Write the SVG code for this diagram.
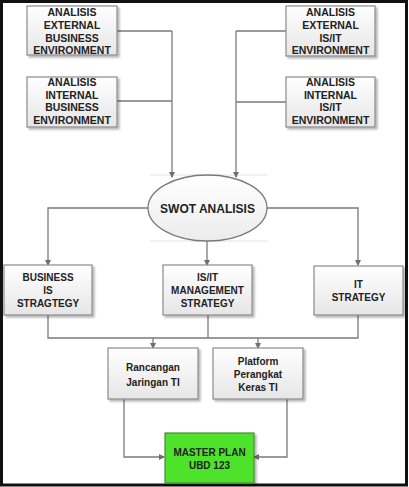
<svg xmlns="http://www.w3.org/2000/svg" width="409" height="487" viewBox="0 0 409 487">
<defs>
<linearGradient id="g" x1="0" y1="0" x2="0" y2="1">
<stop offset="0" stop-color="#ffffff"/>
<stop offset="1" stop-color="#e6e6e6"/>
</linearGradient>
<linearGradient id="ge" x1="0" y1="0" x2="0" y2="1">
<stop offset="0" stop-color="#ffffff"/>
<stop offset="1" stop-color="#ececec"/>
</linearGradient>
<filter id="sh" x="-10%" y="-10%" width="130%" height="130%">
<feGaussianBlur in="SourceAlpha" stdDeviation="1"/>
<feOffset dx="1.5" dy="1.5" result="b"/>
<feComponentTransfer><feFuncA type="linear" slope="0.3"/></feComponentTransfer>
<feMerge><feMergeNode/><feMergeNode in="SourceGraphic"/></feMerge>
</filter>
<marker id="ah" markerWidth="6" markerHeight="6" refX="5" refY="3" orient="auto" markerUnits="userSpaceOnUse">
<path d="M0,0 L6,3 L0,6 z" fill="#6e6e6e"/>
</marker>
</defs>
<style>
.box{fill:url(#g);stroke:#8a8a8a;stroke-width:1.2;filter:url(#sh)}
.t{font-family:"Liberation Sans",Arial,sans-serif;font-weight:bold;fill:#222;text-anchor:middle}
.s11{font-size:10.5px}
.s10{font-size:10px}
.c{fill:none;stroke:#7a7a7a;stroke-width:1.3}
.a{marker-end:url(#ah)}
</style>
<rect x="0" y="0" width="409" height="487" fill="#ffffff"/>
<rect x="1.5" y="1.5" width="405" height="483.5" fill="none" stroke="#111" stroke-width="3"/>
<line x1="150" y1="175" x2="267" y2="175" stroke="#e2e2e2" stroke-width="1"/>
<line x1="150" y1="241" x2="267" y2="241" stroke="#e2e2e2" stroke-width="1"/>
<g id="connectors">
<path class="c" d="M117,31 H172 M117,101 H172"/>
<path class="c a" d="M172,31 V177"/>
<path class="c" d="M286,31 H236 M286,102 H236"/>
<path class="c a" d="M236,31 V177"/>
<path class="c a" d="M148,208 H48 V265"/>
<path class="c a" d="M207,241 V265"/>
<path class="c a" d="M267,208 H358 V265"/>
<path class="c" d="M48,315 V338 H358 V315 M208,315 V338"/>
<path class="c a" d="M153,338 V348"/>
<path class="c a" d="M258,338 V348"/>
<path class="c a" d="M124,399 V457 H164"/>
<path class="c a" d="M287,399 V457 H254"/>
</g>
<g id="ext-business">
<rect class="box" x="27" y="6" width="90" height="49"/>
<text class="t s11" x="72" y="16">ANALISIS</text>
<text class="t s11" x="72" y="29">EXTERNAL</text>
<text class="t s11" x="72" y="41.5">BUSINESS</text>
<text class="t s11" x="72" y="54">ENVIRONMENT</text>
</g>
<g id="int-business">
<rect class="box" x="27" y="77" width="90" height="50"/>
<text class="t s11" x="72" y="86">ANALISIS</text>
<text class="t s11" x="72" y="98.5">INTERNAL</text>
<text class="t s11" x="72" y="111">BUSINESS</text>
<text class="t s11" x="72" y="123.5">ENVIRONMENT</text>
</g>
<g id="ext-isit">
<rect class="box" x="286" y="6" width="89" height="50"/>
<text class="t s11" x="330.5" y="16">ANALISIS</text>
<text class="t s11" x="330.5" y="29">EXTERNAL</text>
<text class="t s11" x="330.5" y="41.5">IS/IT</text>
<text class="t s11" x="330.5" y="54">ENVIRONMENT</text>
</g>
<g id="int-isit">
<rect class="box" x="286" y="77" width="89" height="50"/>
<text class="t s11" x="330.5" y="86">ANALISIS</text>
<text class="t s11" x="330.5" y="98.5">INTERNAL</text>
<text class="t s11" x="330.5" y="111">IS/IT</text>
<text class="t s11" x="330.5" y="123.5">ENVIRONMENT</text>
</g>
<g id="swot">
<ellipse cx="207.5" cy="208" rx="59.5" ry="33" fill="url(#ge)" stroke="#7a7a7a" stroke-width="1.3"/>
<text class="t" x="207.5" y="212.5" font-size="12">SWOT ANALISIS</text>
</g>
<g id="business-is">
<rect class="box" x="4" y="265" width="88" height="50"/>
<text class="t s10" x="48" y="280.5">BUSINESS</text>
<text class="t s10" x="48" y="294">IS</text>
<text class="t s10" x="48" y="307">STRAGTEGY</text>
</g>
<g id="isit-mgmt">
<rect class="box" x="163" y="265" width="89" height="50"/>
<text class="t s10" x="207.5" y="280.5">IS/IT</text>
<text class="t s10" x="207.5" y="293.5">MANAGEMENT</text>
<text class="t s10" x="207.5" y="306.5">STRATEGY</text>
</g>
<g id="it-strategy">
<rect class="box" x="314" y="266" width="89" height="49"/>
<text class="t s10" x="358.5" y="287.5">IT</text>
<text class="t s10" x="358.5" y="300.5">STRATEGY</text>
</g>
<g id="rancangan">
<rect class="box" x="108" y="348" width="90" height="51"/>
<text class="t s10" x="153" y="370.5">Rancangan</text>
<text class="t s10" x="153" y="385.5">Jaringan TI</text>
</g>
<g id="platform">
<rect class="box" x="213" y="348" width="90" height="51"/>
<text class="t s10" x="258" y="364.5">Platform</text>
<text class="t s10" x="258" y="378">Perangkat</text>
<text class="t s10" x="258" y="391">Keras TI</text>
</g>
<g id="master-plan">
<rect x="165" y="433" width="89" height="50" fill="#4fe22c" stroke="#4a8a3a" stroke-width="1.2" filter="url(#sh)"/>
<text class="t s10" x="209.5" y="455.5">MASTER PLAN</text>
<text class="t s10" x="209.5" y="469">UBD 123</text>
</g>
</svg>
